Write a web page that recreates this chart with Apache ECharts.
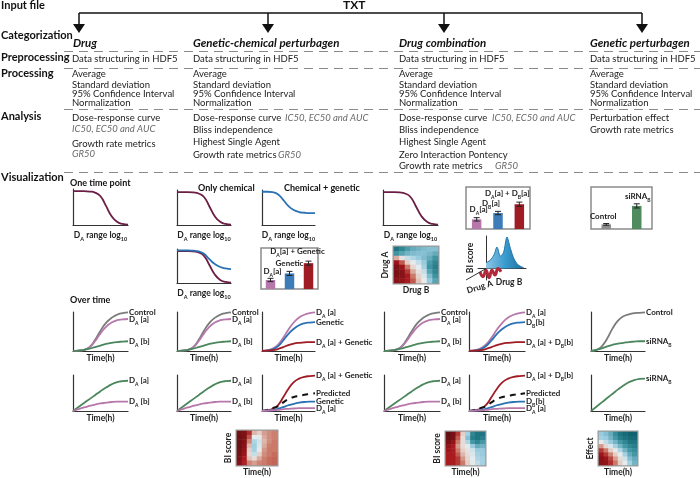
<!DOCTYPE html>
<html><head><meta charset="utf-8">
<script src="https://cdn.jsdelivr.net/npm/echarts@6/dist/echarts.min.js"></script>
<style>html,body{margin:0;padding:0;background:#fff}#c{width:700px;height:478px}</style>
</head><body><div id="c"></div>
<script>
// ================= DATA =================
const headerRows = ['Input file','Categorization','Preprocessing','Processing','Analysis','Visualization'];
const inputFormat = 'TXT';
const categoryNames = ['Drug','Genetic-chemical perturbagen','Drug combination','Genetic perturbagen'];
const preprocessingStep = 'Data structuring in HDF5';
const processingSteps = ['Average','Standard deviation','95% Confidence Interval','Normalization'];
const analysisDrug = ['Dose-response curve','IC50, EC50 and AUC','Growth rate metrics','GR50'];
const analysisGenChem = ['Dose-response curve','IC50, EC50 and AUC','Bliss independence','Highest Single Agent','Growth rate metrics','GR50'];
const analysisCombo = ['Dose-response curve','IC50, EC50 and AUC','Bliss independence','Highest Single Agent','Zero Interaction Pontency','Growth rate metrics','GR50'];
const analysisGenetic = ['Perturbation effect','Growth rate metrics'];
const panelTitles = ['One time point','Only chemical','Chemical + genetic','Over time'];

// curve sample positions (shared x)
const xs = [0,1,2,3,4,5,6,7,8,9,10];
// dose-response (normalized viability)
const doseChemical     = [0.94,0.94,0.94,0.93,0.90,0.80,0.53,0.25,0.09,0.03,0.01];
const doseChemGenetic  = [0.95,0.95,0.94,0.88,0.72,0.54,0.43,0.37,0.35,0.34,0.34];
const doseChemGenetic2 = [0.96,0.96,0.96,0.95,0.93,0.86,0.70,0.56,0.47,0.43,0.41];
// growth over time
const growthControl    = [0,0.01,0.03,0.10,0.28,0.52,0.72,0.85,0.93,0.97,0.99];
const growthDaA        = [0,0.01,0.03,0.09,0.25,0.45,0.62,0.73,0.79,0.81,0.82];
const growthDaB        = [0,0.01,0.03,0.06,0.10,0.14,0.18,0.21,0.23,0.24,0.25];
const growthSingleA    = [0,0.02,0.06,0.16,0.34,0.55,0.73,0.86,0.93,0.97,0.99];
const growthSingleB    = [0,0.01,0.04,0.12,0.27,0.44,0.57,0.66,0.71,0.73,0.74];
const growthCombined   = [0,0.01,0.02,0.05,0.10,0.15,0.19,0.21,0.22,0.23,0.23];
const growthGenControl = [0,0.03,0.12,0.32,0.58,0.78,0.89,0.94,0.97,0.98,0.99];
const growthSiRNA      = [0,0.03,0.07,0.12,0.16,0.19,0.21,0.23,0.24,0.25,0.25];
// effect over time
const effectDaA        = [0,0.11,0.22,0.33,0.44,0.55,0.65,0.74,0.80,0.83,0.84];
const effectDaB        = [0,0.05,0.10,0.14,0.18,0.21,0.23,0.25,0.26,0.26,0.26];
const effectCombined   = [0,0.02,0.06,0.16,0.38,0.62,0.80,0.90,0.95,0.97,0.98];
const effectPredicted  = [0,0.03,0.08,0.13,0.24,0.33,0.39,0.42,0.45,0.47,0.49];
const effectSingleB    = [0,0.01,0.03,0.06,0.11,0.16,0.20,0.23,0.25,0.26,0.26];
const effectSingleA    = [0,0.01,0.02,0.03,0.05,0.06,0.07,0.08,0.08,0.08,0.08];
const effectSiRNA      = [0,0.12,0.24,0.36,0.48,0.60,0.71,0.80,0.86,0.89,0.90];
// bar panels
const genChemBarCats = ['DA[a]','Genetic','DA[a] + Genetic'];
const genChemBars = [0.22,0.38,0.63];
const genChemErr  = [0.04,0.05,0.05];
const comboBarCats = ['DA[a]','DB[a]','DA[a] + DB[a]'];
const comboBars = [0.23,0.38,0.59];
const comboErr  = [0.04,0.04,0.05];
const geneticBarCats = ['Control','siRNAB'];
const geneticBars = [0.11,0.55];
const geneticErr  = [0.02,0.05];
// 3D synergy surface (profile)
const surfX    = [0,1,2,2.75,3.6,4.4,5.25,6.1,7,8,9.5];
const surfBlue = [0.18,0.25,0.42,0.66,0.38,0.50,0.97,0.62,0.30,0.12,0.02];
const ribbonX   = [-1.5,-0.75,0,0.75,1.5,2.25,3,3.75];
const ribbonRed = [-0.10,-0.25,-0.05,-0.28,-0.05,-0.20,0,-0.10];
// heatmaps (rows top -> bottom, 0 = red, 0.5 = white, 1 = teal)
const heatDrugAB = [
 [0.95,0.90,0.84,0.80,0.78,0.76,0.75,0.75],
 [0.86,0.82,0.78,0.76,0.75,0.75,0.77,0.80],
 [0.38,0.52,0.64,0.68,0.72,0.76,0.80,0.86],
 [0.12,0.25,0.45,0.56,0.64,0.72,0.84,0.90],
 [0.06,0.12,0.30,0.48,0.58,0.70,0.86,0.92],
 [0.05,0.08,0.20,0.38,0.52,0.64,0.82,0.90],
 [0.06,0.08,0.15,0.30,0.46,0.60,0.76,0.86],
 [0.08,0.10,0.15,0.25,0.42,0.56,0.72,0.82]];
const heatGenChemTime = [
 [0.05,0.06,0.18,0.40,0.45,0.36,0.33,0.31],
 [0.03,0.06,0.24,0.58,0.55,0.38,0.33,0.31],
 [0.03,0.07,0.32,0.68,0.62,0.40,0.33,0.30],
 [0.03,0.08,0.40,0.71,0.60,0.38,0.31,0.30],
 [0.04,0.10,0.45,0.70,0.55,0.35,0.30,0.30],
 [0.05,0.12,0.48,0.64,0.46,0.33,0.30,0.28],
 [0.06,0.15,0.42,0.50,0.38,0.31,0.28,0.27],
 [0.08,0.16,0.32,0.36,0.32,0.30,0.28,0.27]];
const heatComboTime = [
 [0.00,0.05,0.20,0.45,0.70,0.90,0.95,0.95],
 [0.02,0.05,0.25,0.50,0.75,0.92,0.95,0.92],
 [0.05,0.10,0.30,0.50,0.68,0.85,0.90,0.85],
 [0.10,0.15,0.35,0.50,0.55,0.72,0.80,0.78],
 [0.12,0.15,0.30,0.45,0.52,0.62,0.72,0.72],
 [0.15,0.15,0.25,0.40,0.50,0.60,0.70,0.72],
 [0.15,0.15,0.20,0.35,0.48,0.58,0.68,0.70],
 [0.15,0.15,0.20,0.30,0.45,0.55,0.65,0.70]];
const heatGeneticTime = [
 [0.72,0.75,0.80,0.88,0.95,0.98,1.00,1.00],
 [0.70,0.72,0.78,0.85,0.92,0.96,0.98,0.98],
 [0.55,0.65,0.72,0.78,0.85,0.90,0.95,0.95],
 [0.35,0.48,0.60,0.70,0.78,0.85,0.90,0.92],
 [0.20,0.30,0.45,0.55,0.68,0.78,0.85,0.88],
 [0.12,0.20,0.32,0.45,0.56,0.70,0.80,0.85],
 [0.08,0.12,0.22,0.36,0.50,0.62,0.75,0.80],
 [0.08,0.10,0.18,0.30,0.45,0.58,0.70,0.78]];

// ================= RENDER =================
const F = 'Lato';
const C = {maroon:'#6b1e45', blue:'#2a72b3', gray:'#7b7b7b', pink:'#b877ab', green:'#4b875d', red:'#a01c24', black:'#111'};
const TXT = '#222';
const R = {
  n:{fontFamily:F,fontSize:8,fontWeight:'bold',color:TXT,lineHeight:11},
  s:{fontFamily:F,fontSize:5,fontWeight:'bold',color:TXT,verticalAlign:'bottom',lineHeight:13}
};
const RX = {
  n:{fontFamily:F,fontSize:8.5,fontWeight:'bold',color:TXT,lineHeight:11},
  s:{fontFamily:F,fontSize:5.5,fontWeight:'bold',color:TXT,verticalAlign:'bottom',lineHeight:14}
};
function rich(t){ // turn "DA[a]" style strings into rich text with subscripts
  return t.replace(/D([AB])/g,'{s$1}').replace(/siRNAB/g,'{sir}').split(/(\{s[AB]\}|\{sir\})/).filter(p=>p!=='').map(p=>{
    if(p==='{sA}') return '{n|D}{s|A}';
    if(p==='{sB}') return '{n|D}{s|B}';
    if(p==='{sir}') return '{n|siRNA}{s|B}';
    return '{n|'+p+'}';
  }).join('');
}
const grids=[], xAxes=[], yAxes=[], series=[], heatSeries=[];
const axLine = {show:true,onZero:true,lineStyle:{color:'#333',width:1.2}};
function baseAxis(gi){return {gridIndex:gi,type:'value',axisTick:{show:false},axisLabel:{show:false},splitLine:{show:false},axisLine:{show:false}};}
function addGrid(rect, gx, xa, ya){
  const gi = grids.length;
  grids.push(Object.assign({left:rect[0],top:rect[1],width:rect[2],height:rect[3]}, gx||{}));
  xAxes.push(Object.assign(baseAxis(gi), xa||{}));
  yAxes.push(Object.assign(baseAxis(gi), ya||{}));
  return gi;
}
const doseName = '{n|D}{s|A}{n| range log}{s|10}';
function doseGrid(rect){
  return addGrid(rect,{},{min:0,max:10,axisLine:axLine,name:doseName,nameLocation:'middle',nameGap:3,nameTextStyle:{rich:RX}},
                         {min:0,max:1,axisLine:axLine});
}
function timeGrid(rect){
  return addGrid(rect,{},{min:0,max:10,axisLine:axLine,name:'Time(h)',nameLocation:'middle',nameGap:3,
                          nameTextStyle:{fontFamily:F,fontSize:8.5,fontWeight:'bold',color:TXT}},
                         {min:0,max:1,axisLine:axLine});
}
function addLine(gi, ys, color, label, extra){
  const s = {type:'line',xAxisIndex:gi,yAxisIndex:gi,data:xs.map((x,i)=>[x,ys[i]]),smooth:true,
    symbol:'none',showSymbol:false,silent:true,lineStyle:{color:color,width:1.8},itemStyle:{color:color}};
  if(label){ s.endLabel = {show:true,formatter:rich(label),rich:R,distance:1}; }
  Object.assign(s, extra||{});
  series.push(s);
}
function addBars(rect, cats, vals, errs, colors, offs){
  const gi = addGrid(rect,{show:true,borderColor:'#8c8c8c',borderWidth:1.5},
      {type:'category',data:cats},{min:0,max:1});
  series.push({type:'bar',xAxisIndex:gi,yAxisIndex:gi,barWidth:9.5,silent:true,
    data:vals.map((v,i)=>({value:v,itemStyle:{color:colors[i]},
      label:{show:true,position:'top',distance:offs[i][1],offset:[offs[i][0],0],formatter:rich(cats[i]),rich:R}}))});
  series.push({type:'custom',xAxisIndex:gi,yAxisIndex:gi,silent:true,z:5,
    data:vals.map((v,i)=>[i,v,errs[i]]),
    renderItem:function(p,api){
      const a=api.coord([api.value(0),api.value(1)+api.value(2)]);
      const b=api.coord([api.value(0),api.value(1)-api.value(2)]);
      const st={stroke:'#222',lineWidth:1};
      return {type:'group',children:[
        {type:'line',shape:{x1:a[0],y1:a[1],x2:b[0],y2:b[1]},style:st},
        {type:'line',shape:{x1:a[0]-3,y1:a[1],x2:a[0]+3,y2:a[1]},style:st},
        {type:'line',shape:{x1:b[0]-3,y1:b[1],x2:b[0]+3,y2:b[1]},style:st}]};
    }});
}
const idx8=[0,1,2,3,4,5,6,7];
const hmName = {fontFamily:F,fontSize:8.5,fontWeight:'bold',color:TXT};
function addHeat(rect, m, xn, yn){
  const gi = addGrid(rect,{show:true,borderColor:'#9a9a9a',borderWidth:3},
    {type:'category',data:idx8,name:xn,nameLocation:'middle',nameGap:3,nameTextStyle:hmName},
    {type:'category',data:idx8,name:yn,nameLocation:'middle',nameRotate:90,nameGap:4,nameTextStyle:hmName});
  const cells=[]; m.forEach((row,r)=>row.forEach((v,c)=>cells.push([c,m.length-1-r,v])));
  heatSeries.push(series.length);
  series.push({type:'heatmap',xAxisIndex:gi,yAxisIndex:gi,data:cells,silent:true,itemStyle:{borderWidth:0}});
}

// ---- one time point ----
let g;
g = doseGrid([73,189,55,36]); addLine(g, doseChemical, C.maroon);
g = doseGrid([177,190,54,35]); addLine(g, doseChemical, C.maroon);
g = doseGrid([262,190,53,35]); addLine(g, doseChemGenetic, C.blue);
g = doseGrid([177,249,54,34]); addLine(g, doseChemical, C.maroon); addLine(g, doseChemGenetic2, C.blue);
g = doseGrid([383,190,55,35]); addLine(g, doseChemical, C.maroon);
addBars([261,248,57,41], genChemBarCats, genChemBars, genChemErr, [C.pink,'#3d7cb8',C.red], [[2,2],[0,4],[-11,5]]);
addBars([466,187,64,42], comboBarCats, comboBars, comboErr, [C.pink,'#3d7cb8',C.red], [[2,3],[-7,3],[-12,4]]);
addBars([591,187,61,42], geneticBarCats, geneticBars, geneticErr, ['#8d8d8d','#4f8b5e'], [[-3,2],[1,3]]);
addHeat([394,247,44,36], heatDrugAB, 'Drug B', 'Drug A');
// 3D surface panel
g = addGrid([478,236,48,44],{},
  {min:-2,max:10,axisLine:{show:true,onZero:true,lineStyle:{color:'#333',width:1}},name:'Drug B',nameLocation:'middle',nameGap:-2,
   nameTextStyle:Object.assign({padding:[0,0,0,14]},hmName)},
  {min:-0.35,max:1,axisLine:{show:true,onZero:true,lineStyle:{color:'#333',width:1}},name:'BI score',nameLocation:'middle',nameRotate:90,nameGap:3,
   nameTextStyle:hmName});
series.push({type:'line',xAxisIndex:g,yAxisIndex:g,data:surfX.map((x,i)=>[x,surfBlue[i]]),smooth:0.3,symbol:'none',silent:true,
  lineStyle:{color:'#1f77aa',width:1},
  areaStyle:{color:new echarts.graphic.LinearGradient(0,0,1,0,[{offset:0,color:'#8ec6e4'},{offset:0.5,color:'#3b9bcf'},{offset:1,color:'#1d6e9a'}]),opacity:1}});
series.push({type:'line',xAxisIndex:g,yAxisIndex:g,data:ribbonX.map((x,i)=>[x,ribbonRed[i]]),smooth:true,symbol:'none',silent:true,clip:false,
  lineStyle:{color:'#b0283a',width:3}});

// ---- over time: row 1 ----
g = timeGrid([73,312,55,39]);
addLine(g, growthControl, C.gray, 'Control'); addLine(g, growthDaA, C.pink, 'DA [a]'); addLine(g, growthDaB, C.green, 'DA [b]');
g = timeGrid([177,312,54,39]);
addLine(g, growthControl, C.gray, 'Control'); addLine(g, growthDaA, C.pink, 'DA [a]'); addLine(g, growthDaB, C.green, 'DA [b]');
g = timeGrid([262,312,53,39]);
addLine(g, growthSingleA, C.pink, 'DA [a]'); addLine(g, growthSingleB, C.blue, 'Genetic'); addLine(g, growthCombined, C.red, 'DA [a] + Genetic');
g = timeGrid([384,312,56,39]);
addLine(g, growthControl, C.gray, 'Control'); addLine(g, growthDaA, C.pink, 'DA [a]'); addLine(g, growthDaB, C.green, 'DA [b]');
g = timeGrid([469,312,56,39]);
addLine(g, growthSingleA, C.pink, 'DA [a]'); addLine(g, growthSingleB, C.blue, 'DB[b]'); addLine(g, growthCombined, C.red, 'DA [a] + DB[b]');
g = timeGrid([591,312,54,39]);
addLine(g, growthGenControl, C.gray, 'Control'); addLine(g, growthSiRNA, C.green, 'siRNAB');

// ---- over time: row 2 ----
g = timeGrid([73,375,55,36]);
addLine(g, effectDaA, C.green, 'DA [a]'); addLine(g, effectDaB, C.pink, 'DA [b]');
g = timeGrid([177,375,54,36]);
addLine(g, effectDaA, C.green, 'DA [a]'); addLine(g, effectDaB, C.pink, 'DA [b]');
g = timeGrid([262,375,53,36]);
addLine(g, effectCombined, C.red, 'DA [a] + Genetic');
addLine(g, effectPredicted, C.black, 'Predicted', {lineStyle:{color:C.black,width:2,type:[6,5]}});
addLine(g, effectSingleB, C.blue, 'Genetic'); addLine(g, effectSingleA, C.pink, 'DA [a]');
g = timeGrid([384,375,56,36]);
addLine(g, effectDaA, C.green, 'DA [a]'); addLine(g, effectDaB, C.pink, 'DA [b]');
g = timeGrid([469,375,56,36]);
addLine(g, effectCombined, C.red, 'DA [a] + DB[b]');
addLine(g, effectPredicted, C.black, 'Predicted', {lineStyle:{color:C.black,width:2,type:[6,5]}});
addLine(g, effectSingleB, C.blue, 'DB[b]'); addLine(g, effectSingleA, C.pink, 'DA [a]');
g = timeGrid([591,375,54,36]);
addLine(g, effectSiRNA, C.green, 'siRNAB');

// ---- bottom heatmaps ----
addHeat([237,431,40,38], heatGenChemTime, 'Time(h)', 'BI score');
addHeat([446,432,39,36], heatComboTime, 'Time(h)', 'BI score');
addHeat([599,432,38,36], heatGeneticTime, 'Time(h)', 'Effect');

// ---- diagram graphics ----
const GE = [];
function text(t,x,y,o){GE.push({type:'text',x:x,y:y,z:100,silent:true,style:Object.assign({text:t,fontFamily:F,fontSize:9.5,fill:TXT,verticalAlign:'middle',align:'left'},o||{})});}
function line(x1,y1,x2,y2,o){GE.push({type:'line',z:90,silent:true,shape:{x1:x1,y1:y1,x2:x2,y2:y2},style:Object.assign({stroke:'#111',lineWidth:1.5},o||{})});}
const rowY = [5,35,57,73,116,177];
headerRows.forEach((t,i)=>text(t,1,rowY[i],{fontWeight:'bold',fontSize:11,fill:'#111'}));
text(inputFormat,343,5,{fontWeight:'bold',fontSize:12,fill:'#111'});
const colX=[72,193,399,590];
const arrowX=[79,268,444,642];
line(arrowX[0],13,arrowX[3],13);
arrowX.forEach(x=>{line(x,13,x,26); GE.push({type:'polygon',z:90,silent:true,shape:{points:[[x-6,24],[x+6,24],[x,33]]},style:{fill:'#111'}});});
categoryNames.forEach((t,i)=>text(t,colX[i]+(i===0?1:0),43,{fontWeight:'bold',fontStyle:'italic',fontSize:11.5,fill:'#111'}));
[51.5,68.5,109.5,172.5].forEach(y=>line(64,y,700,y,{stroke:'#8a8a8a',lineWidth:1.2,lineDash:[9,6]}));
colX.forEach(x=>{
  text(preprocessingStep,x,59);
  processingSteps.forEach((t,i)=>text(t,x,[74,84.5,94,103][i]));
});
const IT = {fontStyle:'italic',fill:'#6a6a6a'};
// analysis
text(analysisDrug[0],colX[0],118); text(analysisDrug[1],colX[0],129,IT); text(analysisDrug[2],colX[0],144); text(analysisDrug[3],colX[0],154,IT);
text(analysisGenChem[0],colX[1],118); text(analysisGenChem[1],285,118,IT); text(analysisGenChem[2],colX[1],129.5);
text(analysisGenChem[3],colX[1],142); text(analysisGenChem[4],colX[1],155); text(analysisGenChem[5],278,155,IT);
text(analysisCombo[0],colX[2],118); text(analysisCombo[1],492,118,IT); text(analysisCombo[2],colX[2],129.5);
text(analysisCombo[3],colX[2],142); text(analysisCombo[4],colX[2],154.5); text(analysisCombo[5],colX[2],165.5); text(analysisCombo[6],495,165.5,IT);
text(analysisGenetic[0],colX[3],118); text(analysisGenetic[1],colX[3],129.5);
// panel titles
const PT={fontWeight:'bold',fontSize:9,fill:'#111'};
text(panelTitles[0],70,183,PT); text(panelTitles[1],198,188,PT); text(panelTitles[2],284,188,PT); text(panelTitles[3],70,300,PT);
// 3D panel drug A axis
line(486,268.6,466,280,{lineWidth:1,stroke:'#333'});
GE.push({type:'text',x:467,y:291,rotation:0.3,z:100,silent:true,style:{text:'Drug A',fontFamily:F,fontSize:8.5,fontWeight:'bold',fill:TXT,verticalAlign:'middle'}});

const chart = echarts.init(document.getElementById('c'),null,{renderer:'canvas'});
chart.setOption({
  animation:false,
  backgroundColor:'#fff',
  grid:grids, xAxis:xAxes, yAxis:yAxes,
  visualMap:{type:'continuous',show:false,min:0,max:1,seriesIndex:heatSeries,
    inRange:{color:['#5e0f12','#a8161c','#c8705e','#e2c9c0','#e8eef0','#9dcde0','#3f95a3','#0f6470']}},
  series:series,
  graphic:{elements:GE}
});
</script></body></html>
